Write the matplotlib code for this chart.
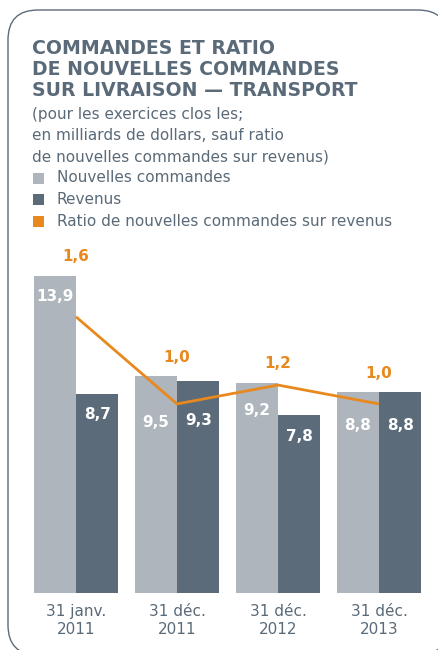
import numpy as np
import matplotlib.pyplot as plt
from matplotlib.patches import FancyBboxPatch, Rectangle

# data
categories = ["31 janv.\n2011", "31 déc.\n2011", "31 déc.\n2012", "31 déc.\n2013"]
nouvelles = [13.9, 9.5, 9.2, 8.8]
revenus = [8.7, 9.3, 7.8, 8.8]
ratio = [1.6, 1.0, 1.13, 1.0]
ratio_labels = ["1,6", "1,0", "1,2", "1,0"]

title_lines = ["COMMANDES ET RATIO", "DE NOUVELLES COMMANDES", "SUR LIVRAISON — TRANSPORT"]
sub_lines = ["(pour les exercices clos les;", "en milliards de dollars, sauf ratio",
             "de nouvelles commandes sur revenus)"]
legend_labels = ["Nouvelles commandes", "Revenus", "Ratio de nouvelles commandes sur revenus"]

c_light = "#aeb5bc"
c_dark = "#5b6b79"
c_orange = "#e8891e"
c_text = "#5a6a78"
FONT = "DejaVu Sans"

W, H = 438, 650
fig = plt.figure(figsize=(W / 100, H / 100), dpi=100)

# background layer in pixel coords for border + header text
bg = fig.add_axes([0, 0, 1, 1], zorder=0)
bg.set_xlim(0, W)
bg.set_ylim(H, 0)
bg.axis("off")
bg.add_patch(FancyBboxPatch((8, 10), 440, 645, boxstyle="round,pad=0,rounding_size=30",
                            fc="white", ec=c_dark, lw=1.0, clip_on=False))

for i, t in enumerate(title_lines):
    bg.text(32, 48 + i * 21.5, t, fontsize=13.6, fontweight="bold", family=FONT,
            color=c_text, va="center", ha="left")
for i, t in enumerate(sub_lines):
    bg.text(32, 114 + i * 21.5, t, fontsize=11, family=FONT,
            color=c_text, va="center", ha="left")
for i, (lab, col) in enumerate(zip(legend_labels, [c_light, c_dark, c_orange])):
    y = 178 + i * 21.5
    bg.add_patch(Rectangle((33, y - 5.5), 11, 11, fc=col, ec="none"))
    bg.text(57, y, lab, fontsize=11, family=FONT, color=c_text, va="center", ha="left")

# chart
ax = fig.add_axes([25.5 / W, (H - 592.7) / H, 404 / W, 342.7 / H], zorder=1)
ax.patch.set_alpha(0)
x = np.arange(len(categories))
w = 0.42
ax.bar(x - w / 2, nouvelles, w, color=c_light)
ax.bar(x + w / 2, revenus, w, color=c_dark)
ax.set_xlim(-0.5, 3.5)
ax.set_ylim(0, 15.03)
for s in ax.spines.values():
    s.set_visible(False)
ax.set_yticks([])
ax.set_xticks(x)
ax.set_xticklabels(categories, fontsize=11, family=FONT, color=c_text, linespacing=1.25)
ax.tick_params(axis="x", length=0, pad=8)

# white value labels, pushed down where the ratio line passes
drop_n = [21, 46, 28, 33]
drop_r = [20, 40, 22, 33]
for xi, v, d in zip(x - w / 2, nouvelles, drop_n):
    ax.annotate(f"{v:.1f}".replace(".", ","), (xi, v), xytext=(0, -d), textcoords="offset pixels",
                ha="center", va="center", color="white", fontsize=11, fontweight="bold",
                family=FONT)
for xi, v, d in zip(x + w / 2, revenus, drop_r):
    ax.annotate(f"{v:.1f}".replace(".", ","), (xi, v), xytext=(0, -d), textcoords="offset pixels",
                ha="center", va="center", color="white", fontsize=11, fontweight="bold",
                family=FONT)

# ratio line on its own scale
ax2 = ax.twinx()
ax2.set_ylim(-0.30, 2.06)
ax2.axis("off")
ax2.plot(x, ratio, color=c_orange, lw=2.0, solid_capstyle="butt")
for xi, a, b, lab in zip(x, nouvelles, revenus, ratio_labels):
    ax.annotate(lab, (xi, max(a, b)), xytext=(0, 19), textcoords="offset pixels",
                ha="center", va="center", color=c_orange, fontsize=11, fontweight="bold",
                family=FONT)

fig.savefig("out.png", dpi=100)
